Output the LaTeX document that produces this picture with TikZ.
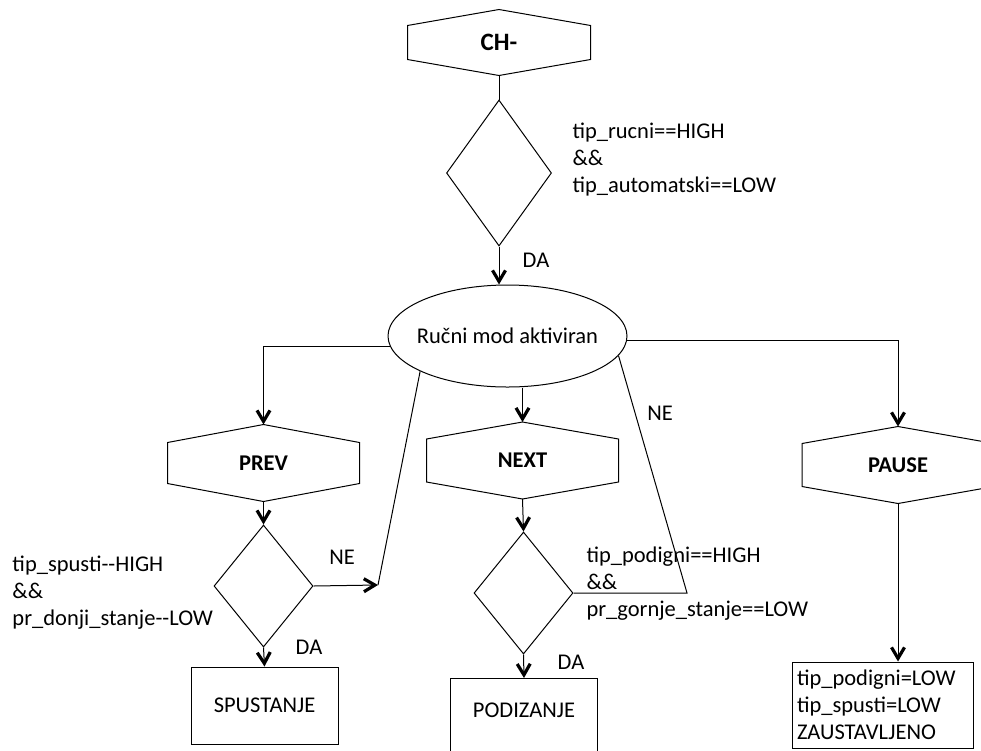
\documentclass[tikz,border=0pt]{standalone}
\usepackage{fontspec}
\setmainfont{Carlito}
\usepackage{tikz}
\usetikzlibrary{arrows.meta,shapes.geometric}

\begin{document}
\begin{tikzpicture}[x=1pt, y=-1pt, line width=1pt,
  every node/.style={font=\fontsize{22.5}{27}\selectfont},
  hexa/.style={minimum width=191pt, minimum height=76pt, inner sep=0pt, font=\fontsize{22.5}{27}\selectfont\bfseries},
  cond/.style={diamond, draw, minimum width=99pt, minimum height=122pt, inner sep=0pt},
  state/.style={draw, minimum width=147pt, minimum height=77pt, inner sep=0pt},
  lbl/.style={inner sep=0pt, align=left},
  arr/.style={-{Straight Barb[length=11pt, width=13pt, line width=3.2pt]}}
]
\useasboundingbox (0,0) rectangle (981,750);
\clip (0,0) rectangle (981,750);

\node[hexa, minimum width=182pt, minimum height=65pt, font=\fontsize{25}{30}\selectfont\bfseries] (ch) at (499,42.5) {CH-};
\node[cond, minimum width=105pt, minimum height=146pt] (d0) at (499,173) {};
\node[lbl, anchor=west] (c0) at (572,160) {tip\_rucni==HIGH\\\&\&\\tip\_automatski==LOW};
\node[ellipse, draw, minimum width=239pt, minimum height=102pt, inner sep=0pt] (rucni) at (507.5,336) {\makebox[0pt]{Ručni mod aktiviran}};

\node[hexa] (prev) at (263.5,463) {PREV};
\node[hexa] (next) at (522.5,460.5) {NEXT};
\node[hexa] (pause) at (898,465) {PAUSE};
\node[cond] (dprev) at (263.5,586) {};
\node[cond] (dnext) at (523.5,593) {};
\node[lbl, anchor=west] (cprev) at (12,593) {tip\_spusti{-}{-}HIGH\\\&\&\\pr\_donji\_stanje{-}{-}LOW};
\node[lbl, anchor=west] (cnext) at (586,584) {tip\_podigni==HIGH\\\&\&\\pr\_gornje\_stanje==LOW};

\node[state] (spust) at (264.5,705.5) {SPUSTANJE};
\node[state, anchor=north, minimum height=0pt, text height=39pt, text depth=45pt] (podiz) at (524,678) {PODIZANJE};
\node[state, minimum width=181pt, minimum height=86pt, text width=171pt, align=left, inner xsep=5pt] (zaust) at (882.5,705) {tip\_podigni=LOW\\tip\_spusti=LOW\\ZAUSTAVLJENO};

\node[lbl] (da0) at (536,260) {DA};
\node[lbl] (neprev) at (342,557) {NE};
\node[lbl] (daprev) at (309,647) {DA};
\node[lbl] (nenext) at (660,413) {NE};
\node[lbl] (danext) at (571,662) {DA};

% hexagon outlines round the text nodes
\foreach \n/\a in {ch/16,prev/18,next/17,pause/17}
  \draw ([yshift=-\a pt]\n.north west) -- (\n.north) -- ([yshift=-\a pt]\n.north east)
    -- ([yshift=\a pt]\n.south east) -- (\n.south) -- ([yshift=\a pt]\n.south west) -- cycle;

\coordinate (neL) at (378,585);
\coordinate (neR) at (687,593);

\draw (ch.south) -- (d0.north);
\draw[arr] (d0.south) -- (d0.south |- rucni.north);
\draw[arr] (rucni.185) -| (prev.north);
\draw[arr] (next.north |- rucni.south) -- (next.north);
\draw[arr] (rucni.358) -| (pause.north);
\draw[arr] (prev.south) -- (dprev.north);
\draw[arr] (next.south) -- (dnext.north);
\draw[arr] (dprev.south) -- (spust.north);
\draw[arr] (dnext.south) -- (podiz.north);
\draw[arr] (pause.south) -- (pause.south |- zaust.north);
\draw[arr] (dprev.east) -- (neL);
\draw (neL) -- (rucni.202);
\draw (dnext.east) -- (neR) -- (rucni.350);
\end{tikzpicture}
\end{document}
